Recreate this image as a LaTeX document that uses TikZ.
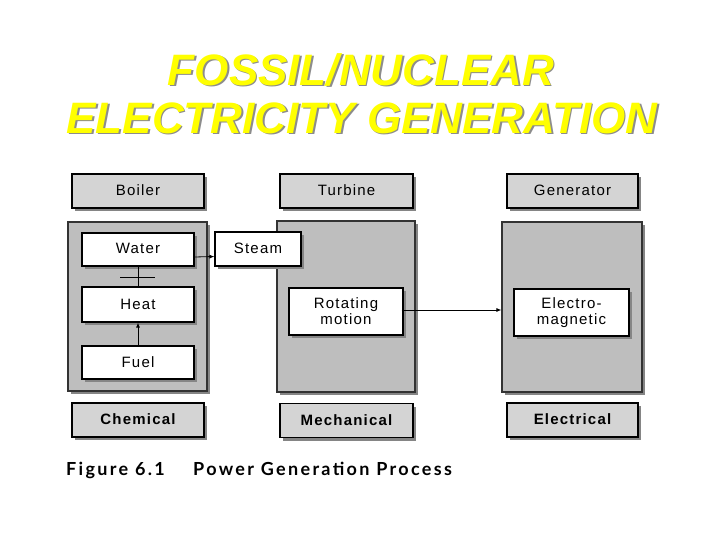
\documentclass[tikz,border=0pt]{standalone}
\usepackage{fontspec}
\setmainfont{Liberation Sans}
\newfontfamily\boxfont[LetterSpace=8]{Liberation Sans}
\newfontfamily\capfont[LetterSpace=13]{Lato}
\usetikzlibrary{arrows.meta,shadows}
\definecolor{labelgray}{HTML}{D4D4D4}
\definecolor{panelgray}{HTML}{BEBEBE}
\definecolor{shadowgray}{HTML}{858585}
\definecolor{titleyellow}{HTML}{FFFF00}

\begin{document}
\begin{tikzpicture}[x=1pt,y=-1pt,
  shade box/.style={drop shadow={shadow xshift=3pt,shadow yshift=-3pt,fill=shadowgray,opacity=1}},
  labelbox/.style={draw=black,line width=1.2pt,fill=labelgray,shade box,minimum width=#1,minimum height=34pt,inner sep=0pt,text height=11pt,text depth=2pt,font=\boxfont\fontsize{15}{17}\selectfont},
  panel/.style={draw=black!80,line width=1.2pt,fill=panelgray,shade box,inner sep=0pt},
  itembox/.style={draw=black,line width=1.2pt,fill=white,shade box,inner sep=0pt,align=center,font=\boxfont\fontsize{15}{16}\selectfont},
  oneline/.style={text height=11pt,text depth=2pt},
  formbox/.style={labelbox=#1,font=\boxfont\fontsize{15}{17}\bfseries\selectfont},
  title/.style={font=\fontsize{44}{48}\bfseries\itshape\selectfont,text=titleyellow},
  titleshade/.style={font=\fontsize{44}{48}\bfseries\itshape\selectfont,text=black!45}]
 \useasboundingbox[fill=white] (0,0) rectangle (720,540);
 % title
 \node[titleshade] at (362.5,71.5) {FOSSIL/NUCLEAR};
 \node[titleshade] at (363.5,119.5) {ELECTRICITY GENERATION};
 \node[title] (title1) at (361,70) {FOSSIL/NUCLEAR};
 \node[title] (title2) at (362,118) {ELECTRICITY GENERATION};
 % heading boxes
 \node[labelbox=132pt] (boiler) at (138,191) {Boiler};
 \node[labelbox=133pt] (turbine) at (346.5,191) {Turbine};
 \node[labelbox=131pt] (generator) at (572.5,191) {Generator};
 % panels
 \node[panel,minimum width=139pt,minimum height=169pt] (boilerpanel) at (137.5,306.5) {};
 \node[panel,minimum width=138pt,minimum height=171pt] (turbinepanel) at (346,306.5) {};
 \node[panel,minimum width=140pt,minimum height=170pt] (genpanel) at (572,307) {};
 % items
 \node[itembox,oneline,minimum width=112pt,minimum height=33pt] (water) at (138,249.5) {Water};
 \node[itembox,oneline,minimum width=86pt,minimum height=34pt] (steam) at (258,249) {Steam};
 \node[itembox,oneline,minimum width=112pt,minimum height=35pt] (heat) at (138,304.5) {Heat};
 \node[itembox,oneline,minimum width=112pt,minimum height=33pt] (fuel) at (138,362.5) {Fuel};
 \node[itembox,minimum width=114pt,minimum height=47pt] (rotating) at (346,311.5) {Rotating\\motion};
 \node[itembox,minimum width=115pt,minimum height=47pt] (electro) at (571.5,312.5) {Electro-\\magnetic};
 % energy forms
 \node[formbox=132pt] (chemical) at (138,420) {Chemical};
 \node[formbox=133pt] (mechanical) at (346.5,420.5) {Mechanical};
 \node[formbox=131pt] (electrical) at (572.5,420) {Electrical};
 % connectors
 \draw[line width=.8pt,-{Latex[length=5pt,width=4pt]}] ([yshift=-7.5pt]water.east) -- ([yshift=-7.5pt]steam.west);
 \draw[line width=.8pt] (water.south) -- (heat.north);
 \coordinate (barl) at (120,277);
 \coordinate (barr) at (155,277);
 \draw[line width=.8pt] (barl) -- (barr);
 \draw[line width=.8pt,-{Latex[length=5pt,width=4pt]}] (fuel.north) -- (heat.south);
 \draw[line width=.8pt,-{Latex[length=5pt,width=4pt]}] ([xshift=-2pt,yshift=1.5pt]rotating.east) coordinate (rm) -- (rm -| genpanel.west);
 % caption
 \node[anchor=base west,inner sep=0pt,font=\capfont\fontsize{18}{20}\bfseries\selectfont] (figlabel) at (66,475) {Figure 6.1};
 \node[anchor=base west,inner sep=0pt,font=\capfont\fontsize{18}{20}\bfseries\selectfont] (figtitle) at (193,475) {Power Generation Process};
\end{tikzpicture}
\end{document}
